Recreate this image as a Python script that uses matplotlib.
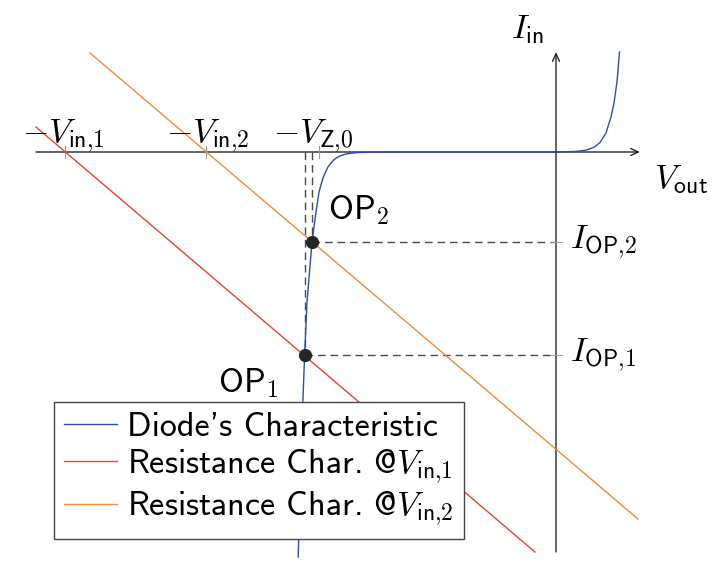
import matplotlib
matplotlib.use("Agg")
import matplotlib.pyplot as plt

plt.rcParams["mathtext.fontset"] = "cm"
plt.rcParams["font.family"] = ["cmss10", "DejaVu Sans"]
plt.rcParams["axes.unicode_minus"] = False

# data units: 1 unit = 100 px of the reference
V_IN1 = 4.91
V_IN2 = 3.50
V_Z0 = 2.37

# operating points (V, I)
op1 = (-2.514, -2.03)
op2 = (-2.44, -0.90)

# resistance characteristics (end points)
res1_v = [-5.20, -0.21]
res1_i = [0.25, -4.00]
res2_v = [-4.66, 0.82]
res2_i = [0.99, -3.67]

# diode characteristic
diode_v = [-2.578, -2.55, -2.514, -2.49, -2.44, -2.40, -2.37, -2.345, -2.326,
           -2.30, -2.28, -2.25, -2.223, -2.19, -2.16, -2.10, -2.03, -1.97,
           -1.80, -1.50, 0.0, 0.20, 0.30, 0.38, 0.44, 0.50, 0.55, 0.58,
           0.61, 0.635]
diode_i = [-4.05, -3.00, -2.03, -1.50, -0.90, -0.60, -0.40, -0.31, -0.25,
           -0.19, -0.15, -0.11, -0.08, -0.055, -0.04, -0.02, -0.01, -0.005,
           -0.002, 0.0, 0.0, 0.006, 0.018, 0.047, 0.095, 0.19, 0.35, 0.49,
           0.70, 1.00]

BLUE = "#2c4ea8"
RED = "#e8452f"
ORANGE = "#f18a3b"
DARK = "#262626"

fig = plt.figure(figsize=(7.24, 5.76), dpi=100)
ax = fig.add_axes([0, 0, 1, 1])
ax.set_xlim(-5.56, 1.68)
ax.set_ylim(-4.24, 1.52)
ax.set_aspect("equal")
ax.axis("off")

# dashed helper lines
dash = (0, (5.5, 3.5))
for v, i in (op1, op2):
    ax.plot([v, v], [0, i], ls=dash, color="#4a4a4a", lw=1.0, zorder=1)
    ax.plot([v, 0], [i, i], ls=dash, color="#4a4a4a", lw=1.0, zorder=1)

ax.plot(diode_v, diode_i, color=BLUE, lw=1.0, label="Diode's Characteristic", zorder=3)
ax.plot(res1_v, res1_i, color=RED, lw=1.0, label=r"Resistance Char. @$V_{\mathsf{in}{,}1}$", zorder=3)
ax.plot(res2_v, res2_i, color=ORANGE, lw=1.0, label=r"Resistance Char. @$V_{\mathsf{in}{,}2}$", zorder=3)

# axes with arrows
arrow = dict(arrowstyle="->,head_length=0.55,head_width=0.25", lw=1.0, color=DARK,
             shrinkA=0, shrinkB=0)
ax.annotate("", xy=(0.84, 0), xytext=(-5.20, 0), arrowprops=arrow, zorder=2)
ax.annotate("", xy=(0, 1.0), xytext=(0, -4.0), arrowprops=arrow, zorder=2)

# ticks
for v in (-V_IN1, -V_IN2, -V_Z0):
    ax.plot([v, v], [-0.06, 0.06], color="#999999", lw=0.8, zorder=2)
for v, i in (op1, op2):
    ax.plot([-0.06, 0.06], [i, i], color="#999999", lw=0.8, zorder=2)

ax.plot([op1[0], op2[0]], [op1[1], op2[1]], "o", color=DARK, ms=8.5, zorder=4)

fs = 24.5
ax.text(-V_IN1 - 0.02, 0.10, r"$-V_{\mathsf{in}{,}1}$", fontsize=fs, ha="center", va="baseline")
ax.text(-V_IN2 + 0.02, 0.10, r"$-V_{\mathsf{in}{,}2}$", fontsize=fs, ha="center", va="baseline")
ax.text(-V_Z0 - 0.06, 0.10, r"$-V_{\mathsf{Z}{,}0}$", fontsize=fs, ha="center", va="baseline")
ax.text(-0.29, 1.22, r"$I_{\mathsf{in}}$", fontsize=fs, ha="center", va="center")
ax.text(1.25, -0.28, r"$V_{\mathsf{out}}$", fontsize=fs, ha="center", va="center")
ax.text(0.14, op2[1], r"$I_{\mathsf{OP}{,}2}$", fontsize=fs, ha="left", va="center")
ax.text(0.14, op1[1], r"$I_{\mathsf{OP}{,}1}$", fontsize=fs, ha="left", va="center")
ax.text(-1.98, -0.58, r"$\mathsf{OP}_2$", fontsize=fs, ha="center", va="center")
ax.text(-3.08, -2.31, r"$\mathsf{OP}_1$", fontsize=fs, ha="center", va="center")

leg = ax.legend(loc="upper left", bbox_to_anchor=(54 / 724, 1 - 402 / 576),
                borderaxespad=0, fontsize=fs, fancybox=False, framealpha=1,
                edgecolor="#444444", handlelength=1.55, handletextpad=0.3,
                labelspacing=0.12, borderpad=0.3)
leg.get_frame().set_linewidth(1.0)
leg.set_zorder(5)

fig.savefig("out.png", dpi=100)
